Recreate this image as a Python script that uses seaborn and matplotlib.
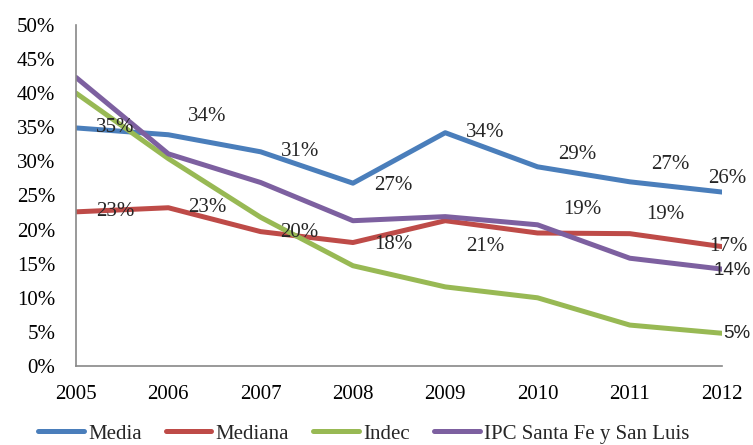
import matplotlib
matplotlib.use('Agg')
import matplotlib.pyplot as plt
import seaborn as sns
import pandas as pd
from matplotlib.ticker import PercentFormatter

# Data
years = [2005, 2006, 2007, 2008, 2009, 2010, 2011, 2012]
media = [34.9, 33.9, 31.4, 26.8, 34.2, 29.2, 27.0, 25.5]
mediana = [22.6, 23.2, 19.7, 18.1, 21.3, 19.5, 19.4, 17.5]
indec = [40.0, 30.4, 21.8, 14.7, 11.6, 10.0, 6.0, 4.8]
ipc = [42.3, 31.1, 26.9, 21.3, 21.9, 20.7, 15.8, 14.2]

series_names = ['Media', 'Mediana', 'Indec', 'IPC Santa Fe y San Luis']
colors = ['#4A7EBB', '#BE4B48', '#98B954', '#7D60A0']

# data labels (text shown on chart)
media_labels = ['35%', '34%', '31%', '27%', '34%', '29%', '27%', '26%']
mediana_labels = ['23%', '23%', '20%', '18%', '21%', '19%', '19%', '17%']

df = pd.DataFrame({
    'year': years * 4,
    'value': media + mediana + indec + ipc,
    'serie': [s for s in series_names for _ in years],
})

sns.set_style('white')
plt.rcParams['font.family'] = ['Liberation Serif', 'DejaVu Serif']

fig = plt.figure(figsize=(7.53, 4.45), dpi=100)
ax = fig.add_axes([0.101, 0.1775, 0.858, 0.7665])

sns.lineplot(data=df, x='year', y='value', hue='serie', hue_order=series_names,
             palette=colors, linewidth=3.6, ax=ax, legend=True)

ax.set_xlim(years[0], years[-1])
ax.set_ylim(0, 50)
ax.set_xticks(years)
ax.set_yticks(range(0, 51, 5))
ax.yaxis.set_major_formatter(PercentFormatter(decimals=0))
ax.set_xlabel('')
ax.set_ylabel('')
ax.tick_params(axis='both', labelsize=15, colors='#888888', labelcolor='black',
               direction='out', length=5, width=1.2)
ax.tick_params(axis='x', pad=9)
ax.tick_params(axis='y', pad=10)
for s in ['top', 'right']:
    ax.spines[s].set_visible(False)
for s in ['left', 'bottom']:
    ax.spines[s].set_color('#888888')
    ax.spines[s].set_linewidth(1.2)

# label offsets in pixels (dx, dy) as placed in the original
media_off = [(39, 0), (39, 18), (39, 0), (40, -2), (40, 0), (40, 12), (40, 17), (5, 14)]
mediana_off = [(39, 0), (39, 0), (39, -1), (40, -2), (40, -26), (45, 23), (35, 19), (6, 0)]

for x, y, t, o in zip(years, media, media_labels, media_off):
    ax.annotate(t, (x, y), xytext=o, textcoords='offset pixels',
                ha='center', va='center', fontsize=15)
for x, y, t, o in zip(years, mediana, mediana_labels, mediana_off):
    ax.annotate(t, (x, y), xytext=o, textcoords='offset pixels',
                ha='center', va='center', fontsize=15)
ax.annotate('14%', (years[-1], ipc[-1]), xytext=(10, -1), textcoords='offset pixels',
            ha='center', va='center', fontsize=13.5, fontfamily='Liberation Sans')
ax.annotate('5%', (years[-1], indec[-1]), xytext=(15, 0), textcoords='offset pixels',
            ha='center', va='center', fontsize=13.5, fontfamily='Liberation Sans')

handles, labels = ax.get_legend_handles_labels()
ax.legend(handles, labels, loc='upper center', bbox_to_anchor=(0.445, -0.115),
          ncol=4, frameon=False, fontsize=15, handlelength=2.2,
          columnspacing=1.15, handletextpad=0.2)

fig.savefig('out.png', dpi=100)
